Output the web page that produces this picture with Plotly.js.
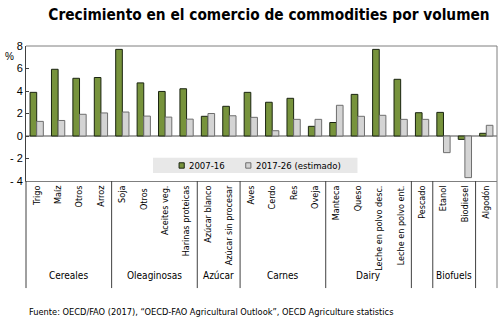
<!DOCTYPE html>
<html>
<head>
<meta charset="utf-8">
<script src="https://cdn.plot.ly/plotly-3.0.1.min.js"></script>
<style>html,body{margin:0;padding:0;background:#fff;}#chart{width:500px;height:326px;}</style>
</head>
<body>
<div id="chart"></div>
<script>
// ---- data ----
var categories = ["Trigo","Maíz","Otros","Arroz","Soja","Otros ","Aceites veg.","Harinas proteicas","Azúcar blanco","Azúcar sin procesar","Aves","Cerdo","Res","Oveja","Manteca","Queso","Leche en polvo desc.","Leche en polvo ent.","Pescado","Etanol","Biodiesel","Algodón"];
var series2007 = [3.88,5.93,5.13,5.2,7.7,4.72,3.96,4.2,1.75,2.64,3.88,3.0,3.35,0.86,1.2,3.7,7.7,5.04,2.07,2.1,-0.3,0.24];
var series2017 = [1.3,1.38,1.93,2.05,2.13,1.77,1.68,1.5,2.0,1.8,1.66,0.47,1.48,1.48,2.73,1.75,1.84,1.48,1.48,-1.48,-3.7,0.95];
var seriesNames = ["2007-16","2017-26 (estimado)"];
var groupNames = ["Cereales","Oleaginosas","Azúcar","Carnes","Dairy","","Biofuels",""];
var groupSizes = [4,4,2,4,4,1,2,1];
var yTickVals = [-4,-2,0,2,4,6,8];
var yTickText = ["- 4","- 2","0","2","4","6","8"];
var titleText = "Crecimiento en el comercio de commodities por volumen";
var sourceText = "Fuente: OECD/FAO (2017), “OECD-FAO Agricultural Outlook”, OECD Agriculture statistics";

var NARROW = '"Liberation Sans Narrow","Arial Narrow","DejaVu Sans Condensed",sans-serif';
var SANS = '"Liberation Sans",Arial,sans-serif';

var traces = [
  {type:'bar', name:seriesNames[0], x:categories, y:series2007,
   marker:{color:'#77933C', line:{color:'#1a2410', width:1}}},
  {type:'bar', name:seriesNames[1], x:categories, y:series2017,
   marker:{color:'#D4D4D4', line:{color:'#6e6e6e', width:1}}}
];

var shapes = [];
var annotations = [];
// plot frame top & right
shapes.push({type:'line', xref:'paper', yref:'paper', x0:0, x1:1, y0:1, y1:1, line:{color:'#7f7f7f', width:1}});
shapes.push({type:'line', xref:'paper', yref:'paper', x0:1, x1:1, y0:-0.793, y1:1, line:{color:'#7f7f7f', width:1}});
shapes.push({type:'line', xref:'paper', yref:'paper', x0:0, x1:0, y0:-0.793, y1:0, line:{color:'#404040', width:1}});
// group separators and labels
var start = 0;
for (var g = 0; g < groupSizes.length; g++) {
  var end = start + groupSizes[g];
  if (end < categories.length) {
    shapes.push({type:'line', xref:'x', yref:'paper', x0:end-0.5, x1:end-0.5, y0:0, y1:-0.793, line:{color:'#404040', width:1}});
  }
  if (groupNames[g]) {
    annotations.push({text:groupNames[g], xref:'x', yref:'paper', x:(start+end-1)/2, y:-0.70,
      showarrow:false, xanchor:'center', yanchor:'middle', font:{family:NARROW, size:10, color:'#000'}});
  }
  start = end;
}
// legend (manual)
shapes.push({type:'rect', xref:'paper', yref:'paper', x0:0.2696, x1:0.7038, y0:0.059, y1:0.1726, fillcolor:'#e8e8e8', line:{width:0}, layer:'below'});
shapes.push({type:'rect', xref:'paper', yref:'paper', x0:0.3425-0.0175, x1:0.3425-0.0065, y0:0.095, y1:0.135, fillcolor:'#77933C', line:{color:'#1a2410', width:1}});
shapes.push({type:'rect', xref:'paper', yref:'paper', x0:0.4840-0.0175, x1:0.4840-0.0065, y0:0.095, y1:0.135, fillcolor:'#D4D4D4', line:{color:'#6e6e6e', width:1}});
annotations.push({text:seriesNames[0], xref:'paper', yref:'paper', x:0.3408, y:0.116, showarrow:false, xanchor:'left', yanchor:'middle', font:{family:NARROW, size:9.5, color:'#000'}});
annotations.push({text:seriesNames[1], xref:'paper', yref:'paper', x:0.4841, y:0.116, showarrow:false, xanchor:'left', yanchor:'middle', font:{family:NARROW, size:9.5, color:'#000'}});
// % unit
annotations.push({text:'%', xref:'paper', yref:'paper', x:-0.036, y:0.925, showarrow:false, xanchor:'center', yanchor:'middle', font:{family:SANS, size:10, color:'#000'}});
// source
annotations.push({text:sourceText, xref:'paper', yref:'paper', x:0.002, y:-0.963, showarrow:false, xanchor:'left', yanchor:'middle', font:{family:NARROW, size:9.2, color:'#000'}});

var layout = {
  width:500, height:326,
  margin:{l:26, r:3, t:46, b:145},
  paper_bgcolor:'#fff', plot_bgcolor:'#fff',
  title:{text:'<b>'+titleText+'</b>', x:0.538, xref:'container', xanchor:'center', y:0.954, yanchor:'middle',
         font:{family:NARROW, size:15.3, color:'#000'}},
  showlegend:false,
  barmode:'group', bargap:0.38, bargroupgap:0,
  xaxis:{type:'category', range:[-0.5, categories.length-0.5], showline:true, linecolor:'#7f7f7f', linewidth:1,
         ticks:'', tickangle:-90, tickfont:{family:NARROW, size:9, color:'#000'}, showgrid:false, zeroline:false, fixedrange:true},
  yaxis:{range:[-4,8], tickvals:yTickVals, ticktext:yTickText, ticks:'inside', ticklen:3, tickcolor:'#404040',
         showline:true, linecolor:'#404040', linewidth:1, showgrid:false,
         zeroline:true, zerolinecolor:'#a6a6a6', zerolinewidth:2,
         tickfont:{family:SANS, size:11, color:'#000'}, fixedrange:true},
  shapes:shapes, annotations:annotations
};
Plotly.newPlot('chart', traces, layout, {displayModeBar:false, staticPlot:true});
</script>
</body>
</html>
